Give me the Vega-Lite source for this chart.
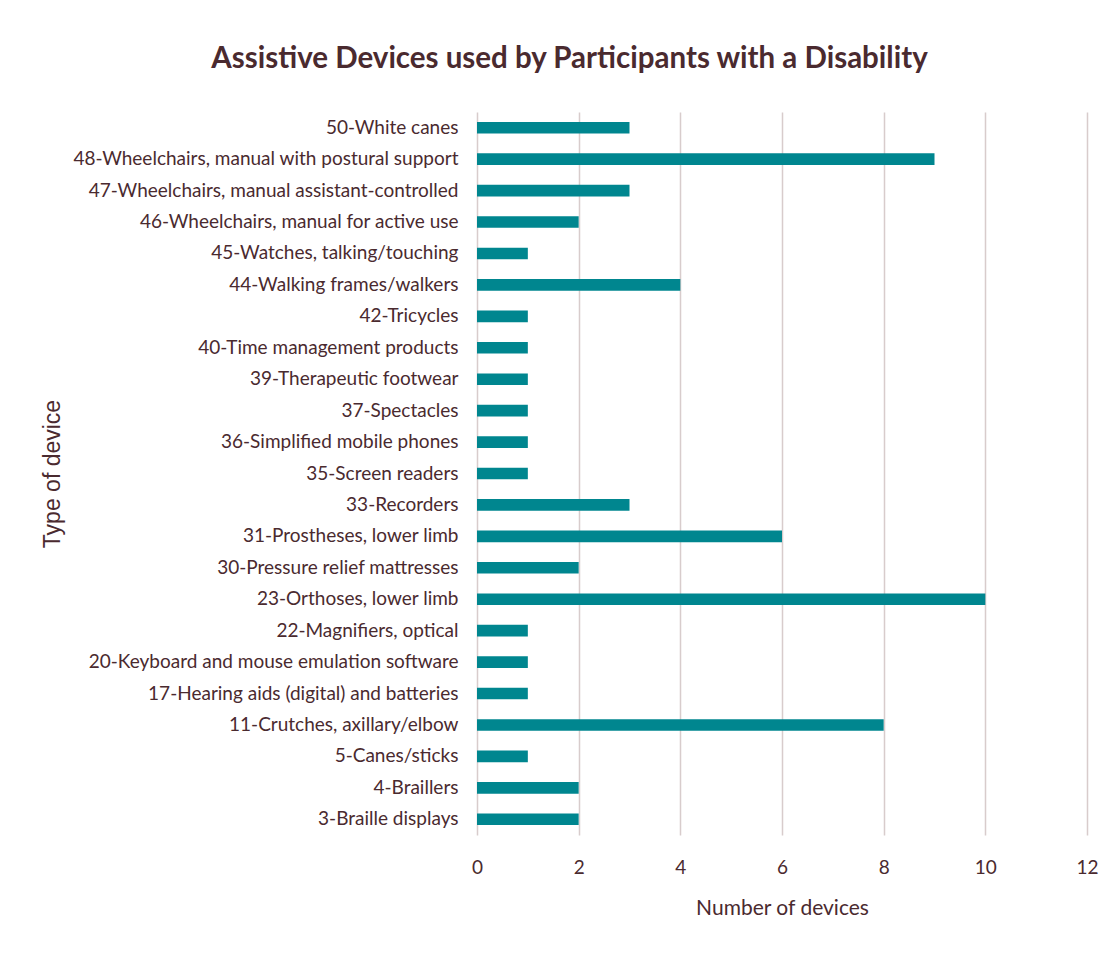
{
  "$schema": "https://vega.github.io/schema/vega-lite/v6.json",
  "width": 610,
  "height": 723,
  "autosize": {"type": "none"},
  "padding": {"left": 477, "top": 112, "right": 26, "bottom": 120},
  "background": "white",
  "title": {
    "text": "Assistive Devices used by Participants with a Disability",
    "font": "Lato",
    "fontSize": 29.5,
    "fontWeight": "bold",
    "color": "#4a2a2f",
    "anchor": "middle",
    "frame": "bounds",
    "offset": 38
  },
  "data": {
    "values": [
      {"device": "50-White canes", "count": 3},
      {"device": "48-Wheelchairs, manual with postural support", "count": 9},
      {"device": "47-Wheelchairs, manual assistant-controlled", "count": 3},
      {"device": "46-Wheelchairs, manual for active use", "count": 2},
      {"device": "45-Watches, talking/touching", "count": 1},
      {"device": "44-Walking frames/walkers", "count": 4},
      {"device": "42-Tricycles", "count": 1},
      {"device": "40-Time management products", "count": 1},
      {"device": "39-Therapeutic footwear", "count": 1},
      {"device": "37-Spectacles", "count": 1},
      {"device": "36-Simplified mobile phones", "count": 1},
      {"device": "35-Screen readers", "count": 1},
      {"device": "33-Recorders", "count": 3},
      {"device": "31-Prostheses, lower limb", "count": 6},
      {"device": "30-Pressure relief mattresses", "count": 2},
      {"device": "23-Orthoses, lower limb", "count": 10},
      {"device": "22-Magnifiers, optical", "count": 1},
      {"device": "20-Keyboard and mouse emulation software", "count": 1},
      {"device": "17-Hearing aids (digital) and batteries", "count": 1},
      {"device": "11-Crutches, axillary/elbow", "count": 8},
      {"device": "5-Canes/sticks", "count": 1},
      {"device": "4-Braillers", "count": 2},
      {"device": "3-Braille displays", "count": 2}
    ]
  },
  "mark": {"type": "bar", "color": "#00868f"},
  "encoding": {
    "y": {
      "field": "device",
      "type": "nominal",
      "sort": null,
      "scale": {"paddingInner": 0.63, "paddingOuter": 0.315},
      "axis": {
        "title": "Type of device",
        "titleFont": "Liberation Sans",
        "titleFontSize": 23,
        "titleFontWeight": "normal",
        "titleColor": "#4a2a2f",
        "titleX": -425,
        "titleY": 361.5,
        "titleAngle": -90,
        "titleBaseline": "middle",
        "titleAlign": "center",
        "labelFont": "Lato",
        "labelFontSize": 19,
        "labelColor": "#4a2a2f",
        "labelPadding": 19,
        "labelLimit": 500,
        "domain": false,
        "ticks": false,
        "grid": false
      }
    },
    "x": {
      "field": "count",
      "type": "quantitative",
      "scale": {"domain": [0, 12], "nice": false},
      "axis": {
        "title": "Number of devices",
        "titleFont": "Lato",
        "titleFontSize": 21,
        "titleFontWeight": "normal",
        "titleColor": "#4a2a2f",
        "titlePadding": 20,
        "labelFont": "Lato",
        "labelFontSize": 19,
        "labelColor": "#4a2a2f",
        "labelPadding": 23,
        "labelFlush": false,
        "values": [0, 2, 4, 6, 8, 10, 12],
        "domain": false,
        "ticks": false,
        "grid": true,
        "gridColor": "#d8cccc",
        "gridWidth": 1.5
      }
    }
  },
  "config": {"view": {"stroke": null}}
}
